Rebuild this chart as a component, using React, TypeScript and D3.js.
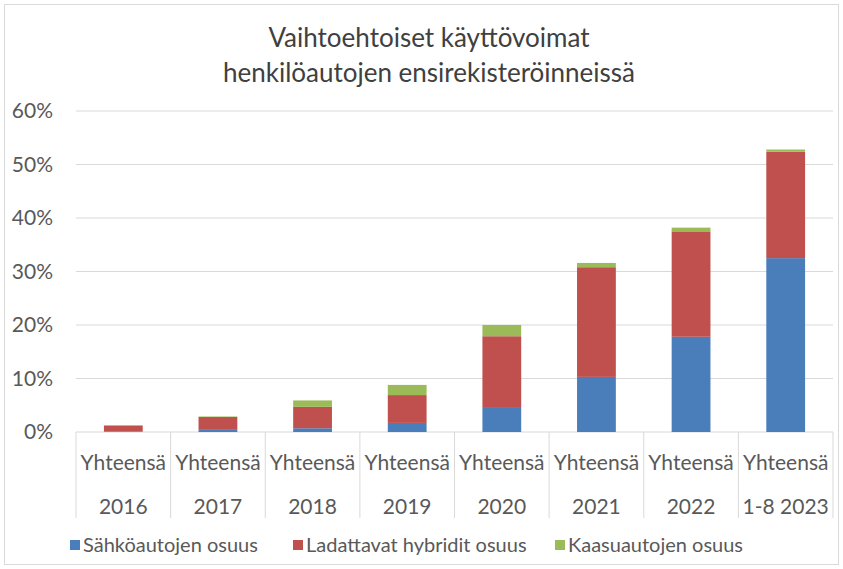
import * as d3 from "d3";
import { useEffect, useRef } from "react";

const categories = ["2016", "2017", "2018", "2019", "2020", "2021", "2022", "1-8 2023"];
const topLabel = "Yhteensä";
const seriesNames = ["Sähköautojen osuus", "Ladattavat hybridit osuus", "Kaasuautojen osuus"];
const sahko = [0.1, 0.4, 0.7, 1.7, 4.5, 10.3, 17.8, 32.5];
const hybridi = [1.1, 2.4, 4.0, 5.2, 13.4, 20.5, 19.7, 19.9];
const kaasu = [0.1, 0.1, 1.2, 1.9, 2.1, 0.8, 0.7, 0.4];
const yTicks = [0, 10, 20, 30, 40, 50, 60];
const colors = ["#4a7ebb", "#c0504d", "#9bbb59"];

const W = 843;
const H = 569;
const FONT = "Lato, 'Open Sans', sans-serif";

export default function App() {
  const ref = useRef<SVGSVGElement>(null);

  useEffect(() => {
    const svg = d3.select(ref.current);
    svg.selectAll("*").remove();

    const margin = { top: 111, right: 10, bottom: 137, left: 76 };
    const plotW = 833 - margin.left;
    const plotH = H - margin.top - margin.bottom;

    // outer frame
    svg
      .append("rect")
      .attr("x", 4.5)
      .attr("y", 4.5)
      .attr("width", W - 9)
      .attr("height", H - 9)
      .attr("fill", "#fff")
      .attr("stroke", "#d9d9d9");

    svg
      .append("text")
      .attr("text-anchor", "middle")
      .attr("font-family", FONT)
      .attr("font-size", 26)
      .attr("fill", "#404040")
      .selectAll("tspan")
      .data(["Vaihtoehtoiset käyttövoimat", "henkilöautojen ensirekisteröinneissä"])
      .join("tspan")
      .attr("x", 429)
      .attr("y", (d, i) => 47 + i * 35)
      .text((d) => d);

    const g = svg.append("g").attr("transform", `translate(${margin.left},${margin.top})`);

    const x = d3.scaleBand().domain(categories).range([0, plotW]).padding(0);
    const y = d3.scaleLinear().domain([0, 60]).range([plotH, 0]);

    // gridlines
    g.selectAll(".grid")
      .data(yTicks)
      .join("line")
      .attr("x1", 0)
      .attr("x2", plotW)
      .attr("y1", (d) => y(d))
      .attr("y2", (d) => y(d))
      .attr("stroke", "#d9d9d9")
      .attr("stroke-width", 1);

    g.selectAll(".ytick")
      .data(yTicks)
      .join("text")
      .attr("x", -23)
      .attr("y", (d) => y(d))
      .attr("dy", "0.35em")
      .attr("text-anchor", "end")
      .attr("font-family", FONT)
      .attr("font-size", 21)
      .attr("fill", "#595959")
      .text((d) => `${d}%`);

    const rows = categories.map((c, i) => ({ cat: c, s0: sahko[i], s1: hybridi[i], s2: kaasu[i] }));
    const stack = d3.stack<any>().keys(["s0", "s1", "s2"])(rows);

    const bw = x.bandwidth() * 0.41;
    g.selectAll(".layer")
      .data(stack)
      .join("g")
      .attr("fill", (d, i) => colors[i])
      .selectAll("rect")
      .data((d) => d)
      .join("rect")
      .attr("x", (d) => x(d.data.cat)! + (x.bandwidth() - bw) / 2)
      .attr("y", (d) => y(d[1]))
      .attr("width", bw)
      .attr("height", (d) => y(d[0]) - y(d[1]));

    // category axis separators
    const seps = [...categories.map((c) => x(c)!), plotW];
    g.selectAll(".sep")
      .data(seps)
      .join("line")
      .attr("x1", (d) => d)
      .attr("x2", (d) => d)
      .attr("y1", plotH)
      .attr("y2", plotH + 86)
      .attr("stroke", "#d9d9d9");

    g.selectAll(".lab1")
      .data(categories)
      .join("text")
      .attr("x", (d) => x(d)! + x.bandwidth() / 2)
      .attr("y", plotH + 38)
      .attr("text-anchor", "middle")
      .attr("font-family", FONT)
      .attr("font-size", 21)
      .attr("fill", "#595959")
      .text(topLabel);

    g.selectAll(".lab2")
      .data(categories)
      .join("text")
      .attr("x", (d) => x(d)! + x.bandwidth() / 2)
      .attr("y", plotH + 82)
      .attr("text-anchor", "middle")
      .attr("font-family", FONT)
      .attr("font-size", 21)
      .attr("fill", "#595959")
      .text((d) => d);

    // legend
    const legendX = [70, 293, 555];
    const leg = svg
      .selectAll(".leg")
      .data(seriesNames)
      .join("g")
      .attr("transform", (d, i) => `translate(${legendX[i]},545)`);
    leg
      .append("rect")
      .attr("x", 0)
      .attr("y", -5)
      .attr("width", 10)
      .attr("height", 10)
      .attr("fill", (d, i) => colors[i]);
    leg
      .append("text")
      .attr("x", 13)
      .attr("dy", "0.35em")
      .attr("font-family", FONT)
      .attr("font-size", 20)
      .attr("fill", "#595959")
      .text((d) => d);
  }, []);

  return (
    <svg
      ref={ref}
      width={W}
      height={H}
      style={{ position: "absolute", left: 0, top: 0 }}
    />
  );
}
